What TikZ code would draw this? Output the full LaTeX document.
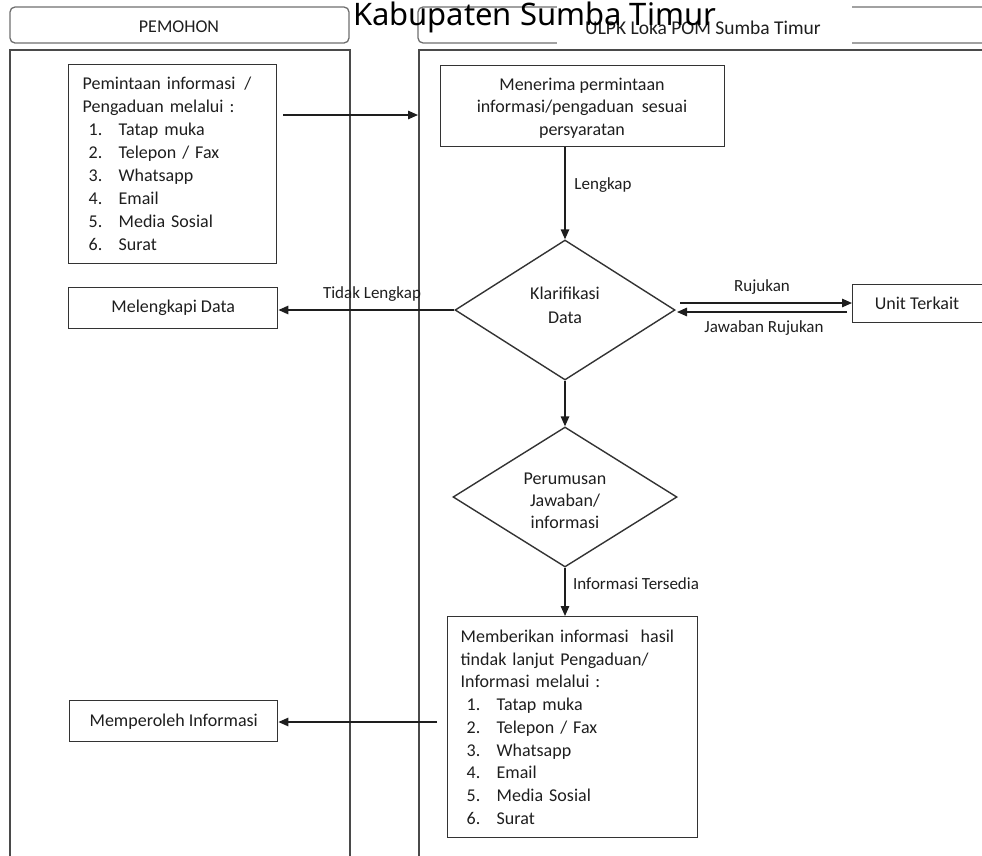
\documentclass[tikz,border=0pt]{standalone}
\usepackage{fontspec}
\setmainfont{Carlito}
\newfontfamily\titlefont{Noto Sans}
\usetikzlibrary{arrows.meta,shapes.geometric}
\definecolor{ink}{HTML}{1E1E1E}
\definecolor{edge}{HTML}{333333}
\definecolor{lane}{HTML}{4A4A4A}
\tikzset{
  boxnode/.style={draw=edge, line width=1.4pt, text=ink, inner ysep=0pt},
  bodyfont/.style={font=\fontsize{18}{23}\selectfont},
  labelfont/.style={font=\fontsize{17}{20}\selectfont, text=ink, inner sep=0pt},
  dianode/.style={draw=edge, line width=1.4pt, shape=diamond, inner sep=0pt, aspect=1.6, text=ink},
  conn/.style={draw=ink, line width=1.4pt, -{Triangle[length=10pt,width=8.5pt]}},
  lanebox/.style={draw=lane, line width=1.2pt},
  headbox/.style={draw=lane!80, line width=1.3pt, rounded corners=5pt},
}
\newcommand{\itm}[2]{\hspace*{6pt}\makebox[30pt][l]{#1}#2}
\begin{document}
\begin{tikzpicture}[x=1pt,y=-1pt]
\useasboundingbox (0,0) rectangle (982,855);
% swimlanes
\draw[lanebox] (10,862) -- (10,50) -- (350,50) -- (350,862);
\draw[lanebox] (419,862) -- (419,50) -- (990,50);
% header boxes
\draw[headbox] (10,7) rectangle (349,43);
\draw[headbox] (418,7) rectangle (995,43);
\fill[white] (557,-2) rectangle (852,47);
\node[font=\fontsize{18}{20}\selectfont, text=ink] (hpem) at (179,27) {PEMOHON};
\node[font=\fontsize{19.5}{22}\selectfont, text=ink] (hulpk) at (703,28) {ULPK Loka POM Sumba Timur};
\node[font=\titlefont\fontsize{31}{34}\selectfont, anchor=base, inner sep=0pt, text=black] (title) at (534.5,25) {Kabupaten Sumba Timur};

% box 1
\node[boxnode, bodyfont, anchor=north west, minimum width=208pt, minimum height=199pt,
      inner xsep=14pt, text width=180pt, align=left] (b1) at (68,64)
{Pemintaan informasi \,/\\
Pengaduan melalui :\\
\itm{1.}{Tatap muka}\\
\itm{2.}{Telepon / Fax}\\
\itm{3.}{Whatsapp}\\
\itm{4.}{Email}\\
\itm{5.}{Media Sosial}\\
\itm{6.}{Surat}};

% box 2
\node[boxnode, anchor=north west, minimum width=284pt, minimum height=81pt] (b2) at (440,65) {};
\node[font=\fontsize{18}{22.5}\selectfont, text=ink, align=center, inner sep=0pt] (b2t) at (582,108)
{Menerima permintaan\\informasi/pengaduan\ \ sesuai\\persyaratan};

% diamond 1
\node[dianode, minimum width=220pt, minimum height=140pt] (d1) at (565,310) {};
\node[font=\fontsize{18}{24}\selectfont, text=ink, align=center, inner sep=0pt] (d1t) at (565,305) {Klarifikasi\\Data};

% melengkapi
\node[boxnode, font=\fontsize{18}{22}\selectfont, anchor=north west, minimum width=209pt, minimum height=41pt] (mel) at (68,287) {Melengkapi Data};

% unit terkait
\node[boxnode, anchor=north west, minimum width=150pt, minimum height=38pt] (unit) at (852,284) {};
\node[font=\fontsize{18}{22}\selectfont, text=ink, inner sep=0pt] (unitt) at (917,303) {Unit Terkait};

% diamond 2
\node[dianode, minimum width=224pt, minimum height=140pt] (d2) at (565,497) {};
\node[font=\fontsize{18}{22}\selectfont, text=ink, align=center, inner sep=0pt] (d2t) at (565,501)
{Perumusan\\Jawaban/\\informasi};

% box 3
\node[boxnode, font=\fontsize{18}{22.7}\selectfont, anchor=north west, minimum width=250pt, minimum height=221pt,
      inner xsep=13pt, text width=224pt, align=left] (b3) at (447,616)
{Memberikan informasi\ \ hasil\\
tindak lanjut Pengaduan/\\
Informasi melalui :\\
\itm{1.}{Tatap muka}\\
\itm{2.}{Telepon / Fax}\\
\itm{3.}{Whatsapp}\\
\itm{4.}{Email}\\
\itm{5.}{Media Sosial}\\
\itm{6.}{Surat}};

% memperoleh
\node[boxnode, font=\fontsize{18}{22}\selectfont, anchor=north west, minimum width=208pt, minimum height=41pt] (mem) at (69,700) {Memperoleh Informasi};

% coordinates for free ends
\coordinate (a1s) at (283,115);
\coordinate (a1e) at (418,115);
\coordinate (rujs) at (680,303);
\coordinate (jaws) at (847,312);
\coordinate (jawe) at (677,312);
\coordinate (a5s) at (437,722);

% connectors
\draw[conn] (a1s) -- (a1e);
\draw[conn] (b2.south -| d1.north) -- (d1.north);
\draw[conn] (d1.west) -- (mel.east |- d1.west);
\draw[conn] (rujs) -- (unit.west |- rujs);
\draw[conn] (jaws) -- (jawe);
\draw[conn] (d1.south) -- (d2.north);
\draw[conn] (d2.south) -- (d2.south |- b3.north);
\draw[conn] (a5s) -- (mem.east |- a5s);

% labels
\node[labelfont] (lLeng) at (603,185) {Lengkap};
\node[labelfont] (lTidak) at (372,294) {Tidak Lengkap};
\node[labelfont] (lRuj) at (762,287) {Rujukan};
\node[labelfont] (lJaw) at (764,328) {Jawaban Rujukan};
\node[labelfont] (lInfo) at (636,584) {Informasi Tersedia};
\end{tikzpicture}
\end{document}
